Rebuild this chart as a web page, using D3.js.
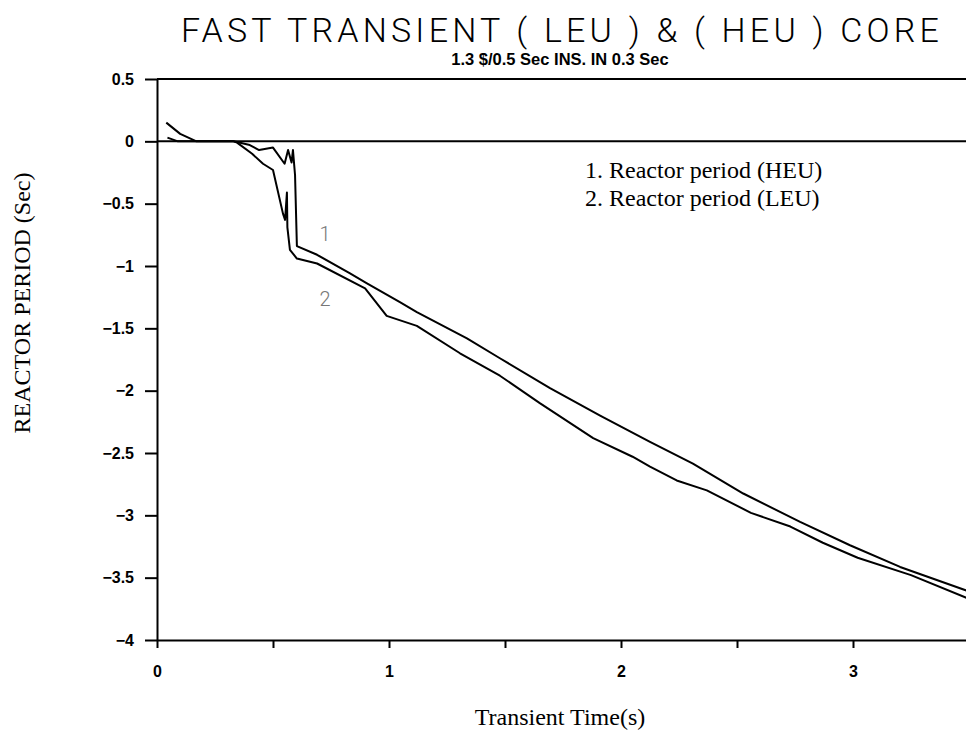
<!DOCTYPE html>
<html lang="en">
<head>
<meta charset="utf-8"/>
<title>Fast transient reactor period</title>
<style>
  * { margin: 0; padding: 0; }
  body { background: #fff; }
  svg { display: block; }
  text { fill: #000; }
  .axis path, .axis line { stroke: #000; stroke-width: 2; }
  text.title { font-family: Roboto, "Liberation Sans", sans-serif; font-weight: 300; font-size: 34px; letter-spacing: 4.2px; }
  text.subtitle { font-family: "Liberation Sans", Arial, sans-serif; font-weight: bold; font-size: 16.5px; }
  text.label { font-family: "Liberation Serif", "Times New Roman", serif; font-size: 24px; }
  text.legend { font-family: "Liberation Serif", "Times New Roman", serif; font-size: 24px; }
  text.curve-tag { font-family: Roboto, sans-serif; font-weight: 300; font-size: 20px; fill: #777; }
</style>
<script src="https://cdn.jsdelivr.net/npm/d3@7"></script>
</head>
<body>
<svg id="chart" width="966" height="734"></svg>
<script>
// curve 1 : reactor period, HEU core
const heuTime   = [0.04, 0.10, 0.17, 0.33, 0.40, 0.44, 0.50, 0.55, 0.565, 0.58, 0.586, 0.595, 0.603,
                   0.69, 0.832, 0.905, 1.047, 1.12, 1.336, 1.478, 1.694, 1.91, 2.125, 2.31, 2.527,
                   2.772, 2.987, 3.203, 3.5];
const heuPeriod = [0.15, 0.06, 0.0, 0.0, -0.03, -0.07, -0.05, -0.18, -0.07, -0.17, -0.07, -0.27, -0.84,
                   -0.91, -1.06, -1.14, -1.29, -1.37, -1.58, -1.74, -1.98, -2.20, -2.41, -2.585, -2.825,
                   -3.053, -3.24, -3.414, -3.61];

// curve 2 : reactor period, LEU core
const leuTime   = [0.045, 0.09, 0.33, 0.345, 0.41, 0.457, 0.50, 0.543, 0.552, 0.56, 0.562, 0.573, 0.603,
                   0.69, 0.897, 0.99, 1.12, 1.306, 1.478, 1.65, 1.88, 2.05, 2.125, 2.24, 2.37, 2.56,
                   2.73, 2.87, 3.02, 3.25, 3.5];
const leuPeriod = [0.03, 0.0, 0.0, -0.01, -0.10, -0.18, -0.23, -0.58, -0.63, -0.41, -0.69, -0.87, -0.94,
                   -0.98, -1.18, -1.40, -1.48, -1.70, -1.88, -2.10, -2.38, -2.53, -2.61, -2.72, -2.80, -2.98,
                   -3.09, -3.22, -3.34, -3.48, -3.67];

const xTicks = [0, 0.5, 1, 1.5, 2, 2.5, 3, 3.5];
const xTickLabels = ["0", "", "1", "", "2", "", "3", ""];
const yTicks = [0.5, 0, -0.5, -1, -1.5, -2, -2.5, -3, -3.5, -4];
const legendLabels = ["1. Reactor period (HEU)", "2. Reactor period (LEU)"];
const curveTags = ["1", "2"];

const plotLeft = 157, plotRight = 969, plotTop = 79, plotBottom = 640;

const svg = d3.select("#chart");

const xScale = d3.scaleLinear().domain([0, 3.5]).range([plotLeft, plotRight]);
const yScale = d3.scaleLinear().domain([-4, 0.5]).range([plotBottom, plotTop]);

svg.append("defs").append("clipPath").attr("id", "plot")
  .append("rect").attr("x", plotLeft).attr("y", plotTop - 5)
  .attr("width", plotRight - plotLeft).attr("height", plotBottom - plotTop + 10);

// title
svg.append("text").attr("class", "title")
  .attr("x", 562).attr("y", 42).attr("text-anchor", "middle")
  .text("FAST TRANSIENT ( LEU ) & ( HEU ) CORE");
svg.append("text").attr("class", "subtitle")
  .attr("x", 560).attr("y", 65).attr("text-anchor", "middle")
  .text("1.3 $/0.5 Sec INS. IN 0.3 Sec");

// x axis
const xAxis = svg.append("g").attr("class", "axis")
  .attr("transform", `translate(0, ${plotBottom})`)
  .call(d3.axisBottom(xScale).tickValues(xTicks).tickSize(8).tickSizeOuter(0).tickPadding(18)
    .tickFormat((d, i) => xTickLabels[i]));

// y axis
const yAxis = svg.append("g").attr("class", "axis")
  .attr("transform", `translate(${plotLeft}, 0)`)
  .call(d3.axisLeft(yScale).tickValues(yTicks).tickSize(12).tickSizeOuter(0).tickPadding(11)
    .tickFormat(d3.format("")));

[xAxis, yAxis].forEach(a => a.selectAll(".tick text")
  .attr("font-family", "'Liberation Sans', Arial, sans-serif")
  .attr("font-size", 16)
  .attr("font-weight", "bold"));

// frame line at top and the zero line
[0.5, 0].forEach(v => {
  svg.append("line")
    .attr("x1", plotLeft).attr("x2", plotRight)
    .attr("y1", yScale(v)).attr("y2", yScale(v))
    .attr("stroke", "#000").attr("stroke-width", 2);
});

// curves
const line = d3.line()
  .x(d => xScale(d[0]))
  .y(d => yScale(d[1]));

[[heuTime, heuPeriod], [leuTime, leuPeriod]].forEach(([t, p]) => {
  svg.append("path")
    .attr("clip-path", "url(#plot)")
    .attr("d", line(t.map((v, i) => [v, p[i]])))
    .attr("fill", "none")
    .attr("stroke", "#000")
    .attr("stroke-width", 2)
    .attr("stroke-linejoin", "round");
});

// tags next to the curves
svg.append("text").attr("class", "curve-tag")
  .attr("x", xScale(0.724)).attr("y", yScale(-0.80)).attr("text-anchor", "middle")
  .text(curveTags[0]);
svg.append("text").attr("class", "curve-tag")
  .attr("x", xScale(0.724)).attr("y", yScale(-1.32)).attr("text-anchor", "middle")
  .text(curveTags[1]);

// legend
legendLabels.forEach((s, i) => {
  svg.append("text").attr("class", "legend")
    .attr("x", 585).attr("y", 178 + i * 28)
    .text(s);
});

// axis labels
svg.append("text").attr("class", "label")
  .attr("x", 560).attr("y", 725).attr("text-anchor", "middle")
  .text("Transient Time(s)");
svg.append("text").attr("class", "label")
  .attr("transform", "translate(30, 303) rotate(-90)")
  .attr("text-anchor", "middle")
  .text("REACTOR PERIOD (Sec)");
</script>
</body>
</html>
